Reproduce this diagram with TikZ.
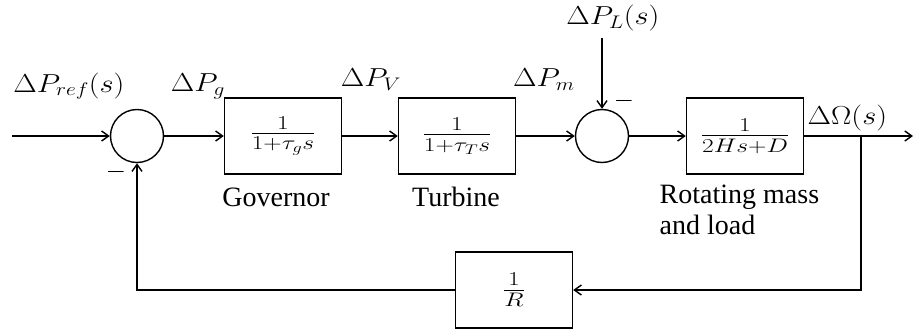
\documentclass[tikz,border=0pt]{standalone}
\usepackage{fix-cm}
\usepackage{graphicx}
\usepackage{fontspec}
\setmainfont{Liberation Serif}
\usetikzlibrary{arrows.meta}
\newcommand{\lbx}[1]{\scalebox{1.17}[1]{$#1$}}
\newcommand{\fbx}[1]{\scalebox{1.3}[1]{$#1$}}
\begin{document}
\begin{tikzpicture}[x=1pt,y=-1pt,
  line width=1.4pt,
  arr/.style={-{Straight Barb[length=7pt,width=10pt,line width=1.4pt]}},
  blk/.style={draw,minimum width=117pt,minimum height=76pt,inner sep=0pt,font=\fontsize{28}{32}\selectfont},
  sumj/.style={draw,circle,minimum size=53pt,inner sep=0pt},
  lab/.style={font=\fontsize{26}{30}\selectfont,inner sep=0pt},
  txt/.style={font=\fontsize{28}{31}\selectfont,inner sep=0pt}]
\useasboundingbox (0,0) rectangle (914,330);
\coordinate (in) at (12,136);
\node[sumj] (s1) at (137,136) {};
\node[blk] (gov) at (283,136) {\fbx{\frac{1}{1+\tau_g s}}};
\node[blk] (tur) at (457,136) {\fbx{\frac{1}{1+\tau_T s}}};
\node[sumj] (s2) at (602,136) {};
\node[blk] (rot) at (745,136) {\fbx{\frac{1}{2Hs+D}}};
\node[blk] (fb) at (514,290) {\fbx{\frac{1}{R}}};
\coordinate (br) at (861,136);
\coordinate (out) at (913,136);
\coordinate (lt) at (602,38);
\coordinate (c1) at (861,290);
\coordinate (c2) at (137,290);

\draw[arr] (in) -- (s1);
\draw[arr] (s1) -- (gov);
\draw[arr] (gov) -- (tur);
\draw[arr] (tur) -- (s2);
\draw[arr] (s2) -- (rot);
\draw[arr] (rot) -- (out);
\draw[arr] (lt) -- (s2);
\draw[arr] (br) -- (c1) -- (fb);
\draw[arr] (fb) -- (c2) -- (s1);

\node[lab] (l1) at (69,86) {\lbx{\Delta P_{ref}(s)}};
\node[lab] (l2) at (198,86) {\lbx{\Delta P_g}};
\node[lab] (l3) at (371,80) {\lbx{\Delta P_V}};
\node[lab] (l4) at (544,80) {\lbx{\Delta P_m}};
\node[lab] (l5) at (613,18) {\lbx{\Delta P_L(s)}};
\node[lab,anchor=west] (l6) at (807,118) {\lbx{\Delta\Omega(s)}};
\node[lab] (m1) at (116,172) {$-$};
\node[lab] (m2) at (624,101) {$-$};
\node[txt] (t1) at (276,197) {Governor};
\node[txt] (t2) at (456,197) {Turbine};
\node[txt,anchor=north west,align=left] (t3) at (659,184) {Rotating mass\\and load};
\end{tikzpicture}
\end{document}
